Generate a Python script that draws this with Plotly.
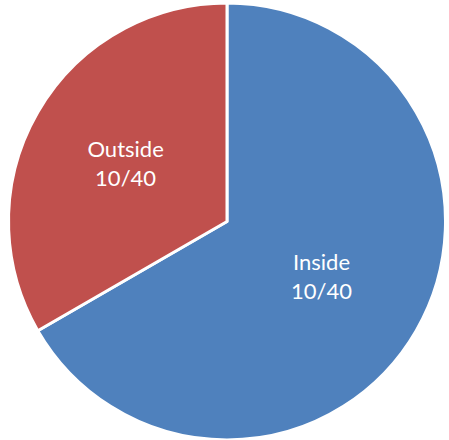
import plotly.graph_objects as go

labels = ["Inside", "Outside"]
values = [2, 1]
fraction_labels = ["10/40", "10/40"]
colors = ["#4F81BD", "#C0504D"]

texts = [f"{l}<br>{f}" for l, f in zip(labels, fraction_labels)]

fig = go.Figure(go.Pie(
    labels=labels,
    values=values,
    text=texts,
    textinfo="text",
    textposition="inside",
    insidetextorientation="horizontal",
    sort=False,
    direction="clockwise",
    rotation=0,
    marker=dict(colors=colors, line=dict(color="white", width=3)),
    textfont=dict(family="Lato", size=22, color="white"),
    showlegend=False,
    hoverinfo="label+value",
))

fig.update_layout(
    width=449, height=440,
    margin=dict(l=8, r=3, t=3, b=0),
    paper_bgcolor="white",
    plot_bgcolor="white",
    uniformtext=dict(minsize=22, mode="show"),
)

fig.write_html(
    "out.html",
    config={"displayModeBar": False},
    post_script="document.body.style.margin='0px';",
)
